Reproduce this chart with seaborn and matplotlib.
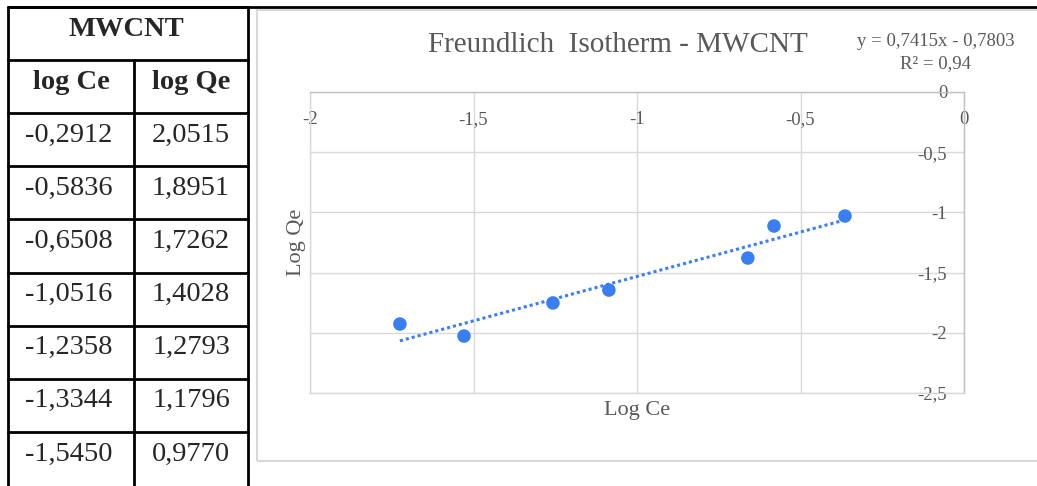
import matplotlib
matplotlib.use("Agg")
import matplotlib.pyplot as plt
import seaborn as sns
from matplotlib.lines import Line2D
from matplotlib.patches import Rectangle
from matplotlib.ticker import FuncFormatter

# table values (as printed)
table_title = "MWCNT"
table_head = ["log Ce", "log Qe"]
table_ce = ["-0,2912", "-0,5836", "-0,6508", "-1,0516", "-1,2358", "-1,3344", "-1,5450"]
table_qe = ["2,0515", "1,8951", "1,7262", "1,4028", "1,2793", "1,1796", "0,9770"]

# points
log_ce = [-1.725, -1.529, -1.257, -1.086, -0.661, -0.581, -0.364]
log_qe = [-1.927, -2.027, -1.752, -1.645, -1.379, -1.113, -1.030]

x_ticks = [-2, -1.5, -1, -0.5, 0]
y_ticks = [-2.5, -2, -1.5, -1, -0.5, 0]

sns.set_style("white")
plt.rcParams["font.family"] = ["Liberation Serif", "DejaVu Serif"]
plt.rcParams["axes.unicode_minus"] = False

W, H = 1037, 486
fig = plt.figure(figsize=(W / 100, H / 100), dpi=100)


def fx(px):
    return px / W


def fy(py):
    return 1 - py / H


gray_txt = "#595959"
grid_c = "#d9d9d9"
blue = "#3a7ff2"

# ---- table ----
row_h = 53.1
ax_t = fig.add_axes([fx(8), fy(486), fx(248) - fx(8), (486 - 7) / H])
ax_t.set_xlim(0, 1)
ax_t.set_ylim((486 - 7) / row_h, 0)
ax_t.axis("off")
split = (134 - 8) / 240
n_rows = 2 + len(table_ce)
for r in range(n_rows):
    ax_t.axhline(r, color="black", lw=2, clip_on=False)
for xv in [0, 1]:
    ax_t.axvline(xv, color="black", lw=2, clip_on=False)
ax_t.plot([split, split], [1, 10], color="black", lw=2, clip_on=True)

base = 0.54
ax_t.text(0.495, base, table_title, ha="center", va="baseline",
          fontsize=20.5, fontweight="bold")
ax_t.text(split / 2, 1 + base, table_head[0], ha="center", va="baseline",
          fontsize=20.5, fontweight="bold")
ax_t.text((split + 1) / 2, 1 + base, table_head[1], ha="center", va="baseline",
          fontsize=20.5, fontweight="bold")
for i, (a, b) in enumerate(zip(table_ce, table_qe)):
    ax_t.text(split / 2 - 0.01, 2 + i + base, a, ha="center", va="baseline", fontsize=20.5)
    ax_t.text((split + 1) / 2, 2 + i + base, b, ha="center", va="baseline", fontsize=20.5)

fig.add_artist(Line2D([fx(8), 1], [fy(7), fy(7)], transform=fig.transFigure,
                      color="black", lw=2))

# chart frame
fig.add_artist(Rectangle((fx(257), fy(461)), 1.2, (461 - 10) / H,
                         transform=fig.transFigure, fill=False, ec=grid_c, lw=1.5))

# ---- chart ----
ax = fig.add_axes([fx(310), fy(393), fx(964) - fx(310), (393 - 92) / H])
sns.regplot(x=log_ce, y=log_qe, ax=ax, ci=None, color=blue,
            scatter_kws={"s": 95, "alpha": 1, "edgecolor": "none", "zorder": 4},
            line_kws={"linestyle": (0, (1, 1)), "lw": 2.2, "zorder": 3})
ax.set_xlim(-2, 0)
ax.set_ylim(-2.5, 0)
ax.set_xticks(x_ticks)
ax.set_yticks(y_ticks)
fmt = FuncFormatter(lambda v, p: ("%g" % v).replace(".", ","))
ax.xaxis.set_major_formatter(fmt)
ax.yaxis.set_major_formatter(fmt)
ax.grid(True, color=grid_c, lw=1.0)
ax.set_axisbelow(True)
for side in ["left", "bottom"]:
    ax.spines[side].set_color(grid_c)
for side in ["top", "right"]:
    ax.spines[side].set_color("#bfbfbf")
for s in ax.spines.values():
    s.set_linewidth(1.0)

ax.xaxis.tick_top()
ax.tick_params(axis="x", length=0, pad=-14, labelsize=13.5, labelcolor=gray_txt)
plt.setp(ax.get_xticklabels(), va="top")
ax.yaxis.tick_right()
ax.tick_params(axis="y", length=0, pad=-12, labelsize=13.5, labelcolor=gray_txt)
plt.setp(ax.get_yticklabels(), ha="right")

ax.xaxis.set_label_position("bottom")
ax.yaxis.set_label_position("left")
ax.set_xlabel("Log Ce", fontsize=16, color=gray_txt, labelpad=6)
ax.set_ylabel("Log Qe", fontsize=16, color=gray_txt, labelpad=3)

fig.text(fx(618), fy(45), "Freundlich  Isotherm - MWCNT", ha="center", va="center",
         fontsize=21, color=gray_txt)
fig.text(fx(936), fy(42), "y = 0,7415x - 0,7803", ha="center", va="center",
         fontsize=13.5, color=gray_txt)
fig.text(fx(936), fy(64), "R² = 0,94", ha="center", va="center",
         fontsize=13.5, color=gray_txt)

fig.savefig("out.png", dpi=100)
